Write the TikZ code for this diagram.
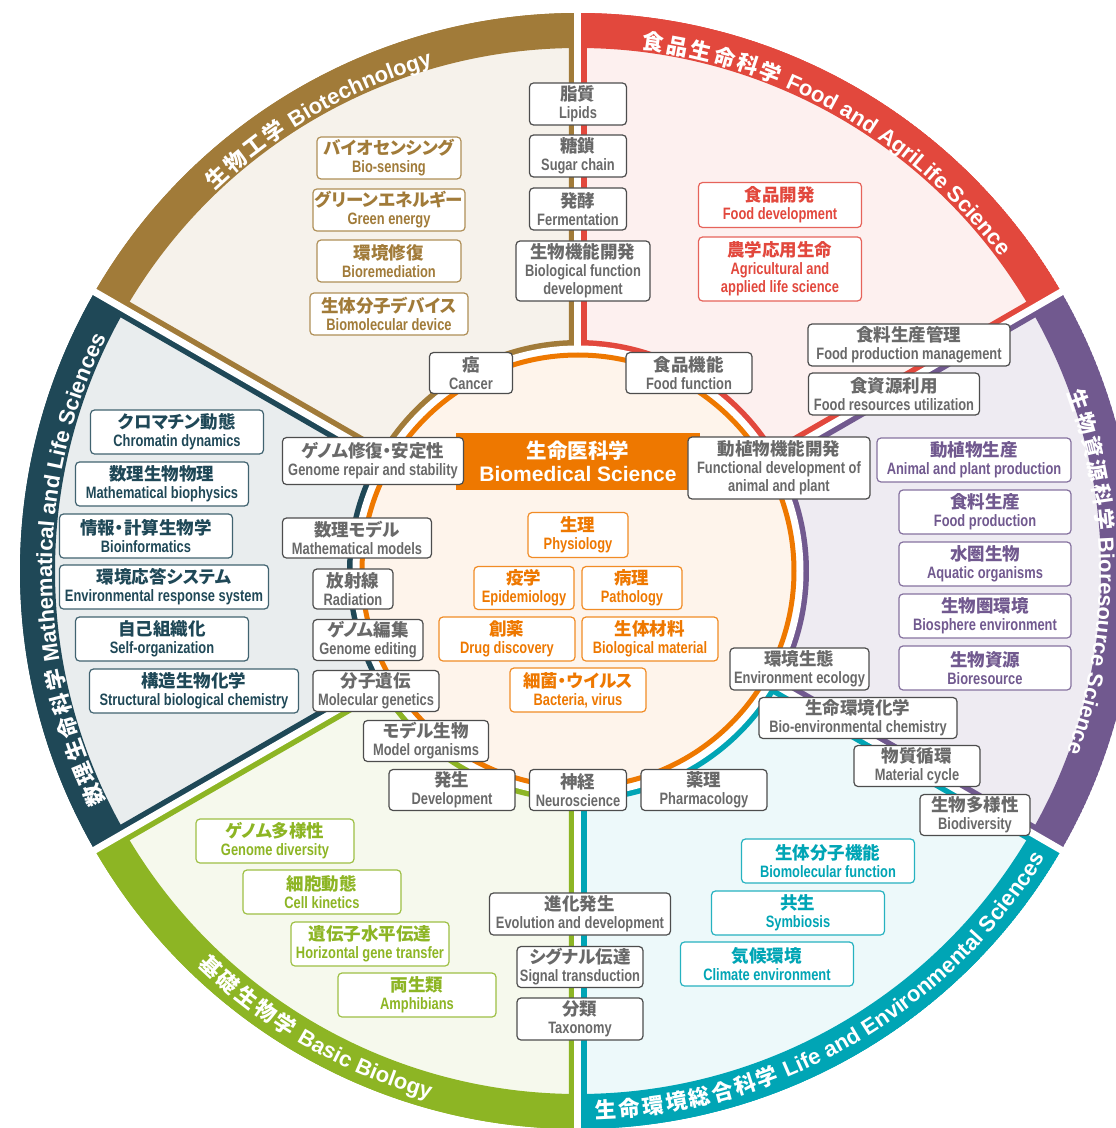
\documentclass[tikz,border=0pt]{standalone}
\usepackage{fontspec}
\setmainfont{Liberation Sans}
\newfontfamily\jpfont[RawFeature=+palt]{Noto Sans CJK JP}
\newfontfamily\cnfont[FakeStretch=0.78]{Liberation Sans}
\usetikzlibrary{decorations.text}
\definecolor{biobrown}{RGB}{161,123,57}
\definecolor{foodred}{RGB}{226,72,61}
\definecolor{resviolet}{RGB}{113,89,143}
\definecolor{envteal}{RGB}{0,165,181}
\definecolor{basicgreen}{RGB}{141,181,36}
\definecolor{mathnavy}{RGB}{31,72,87}
\definecolor{medorange}{RGB}{238,120,0}
\definecolor{keygray}{RGB}{105,105,105}
\definecolor{keyline}{RGB}{77,77,77}
\newcommand\jl[1]{{\jpfont\bfseries\fontsize{17.5}{18}\selectfont #1}}
\newcommand\ringjp{\jpfont\bfseries\fontsize{21.5}{22}\selectfont\kern2.5pt}
\newcommand\ringen{\rmfamily\bfseries\fontsize{22}{22}\selectfont}

\begin{document}
\begin{tikzpicture}[x=1pt, y=1pt,
  topic/.style={draw=#1!85, line width=1.2pt, rounded corners=4pt, fill=white, text=#1, align=center,
    minimum height=42pt, inner sep=2pt, font=\cnfont\bfseries\fontsize{16.5}{18}\selectfont},
  keybox/.style={topic=keygray, draw=keyline},
  ringlabel/.style={decorate, decoration={text along path, text align=center, text color=white, text={#1}}}]
  \path[use as bounding box, fill=white] (-578,-557) rectangle (538,571);
  \clip (-578,-557) rectangle (538,571);

  \foreach \a/\c/\l in {30/foodred/8, 90/biobrown/10, 150/mathnavy/10, 210/basicgreen/8, 270/envteal/7, 330/resviolet/12}{
    \pgfmathsetmacro\b{\a+60}
    \begin{scope}
      \clip (\a:222) -- (\a:558) arc[start angle=\a, end angle=\b, radius=558] -- (\b:222) arc[start angle=\b, end angle=\a, radius=222] -- cycle;
      \filldraw[fill=\c!\l, draw=\c, line width=18pt] (\a:222) -- (\a:558) arc[start angle=\a, end angle=\b, radius=558] -- (\b:222) arc[start angle=\b, end angle=\a, radius=222] -- cycle;
      \draw[\c, line width=35pt] (\a:540.5) arc[start angle=\a, end angle=\b, radius=540.5];
    \end{scope}
  }
  \foreach \a in {30,90,...,330}
    \draw[white, line width=7pt] (\a:219) -- (\a:600);
  \draw[white, line width=7pt] (0,0) circle[radius=222];
  \filldraw[fill=medorange!8, draw=medorange, line width=5pt] (0,0) circle[radius=216];

  \path[ringlabel={|\ringjp|食品生命科学 |\ringen|Food and AgriLife Science}] (105:526) arc[start angle=105, end angle=15, radius=526];
  \path[ringlabel={|\ringjp|生物工学 |\ringen|Biotechnology}] (165:526) arc[start angle=165, end angle=75, radius=526];
  \path[ringlabel={|\ringjp|数理生命科学 |\ringen|Mathematical and Life Sciences}] (225:526) arc[start angle=225, end angle=135, radius=526];
  \path[ringlabel={|\ringjp|生物資源科学 |\ringen|Bioresource Science}] (45:521) arc[start angle=45, end angle=-45, radius=521];
  \path[ringlabel={|\ringjp|基礎生物学 |\ringen|Basic Biology}] (195:548) arc[start angle=195, end angle=285, radius=548];
  \path[ringlabel={|\ringjp|生命環境総合科学 |\ringen|Life and Environmental Sciences}] (255:548) arc[start angle=255, end angle=345, radius=548];

  \node[fill=medorange, text=white, minimum width=244pt, minimum height=57pt, align=center,
    font=\bfseries\fontsize{21}{23}\selectfont] (biomed) at (0,109.5)
    {{\jpfont\fontsize{20.5}{23}\selectfont 生命医科学}\\Biomedical Science};

  \node[topic=biobrown, minimum width=144pt] (biosens) at (-189,413) {\jl{バイオセンシング}\\Bio-sensing};
  \node[topic=biobrown, minimum width=144pt] (greenen) at (-189,361) {\jl{グリーンエネルギー}\\Green energy};
  \node[topic=biobrown, minimum width=144pt] (biorem) at (-189,310) {\jl{環境修復}\\Bioremediation};
  \node[topic=biobrown, minimum width=158pt] (biodev) at (-189,257) {\jl{生体分子デバイス}\\Biomolecular device};

  \node[keybox, minimum width=97pt] (lipid) at (0,467) {\jl{脂質}\\Lipids};
  \node[keybox, minimum width=97pt] (sugar) at (0,415) {\jl{糖鎖}\\Sugar chain};
  \node[keybox, minimum width=97pt] (ferment) at (0,362) {\jl{発酵}\\Fermentation};
  \node[keybox, minimum width=134pt, minimum height=60pt] (biofunc) at (5,300) {\jl{生物機能開発}\\Biological function\\development};

  \node[topic=foodred, minimum width=163pt, minimum height=45pt] (fooddev) at (202,366) {\jl{食品開発}\\Food development};
  \node[topic=foodred, minimum width=163pt, minimum height=64pt] (agri) at (202,302) {\jl{農学応用生命}\\Agricultural and\\applied life science};

  \node[keybox, minimum width=202pt] (prodmgmt) at (331,226) {\jl{食料生産管理}\\Food production management};
  \node[keybox, minimum width=171pt] (foodres) at (316,177) {\jl{食資源利用}\\Food resources utilization};
  \node[keybox, minimum width=126pt, minimum height=41pt] (foodfunc) at (111,198) {\jl{食品機能}\\Food function};
  \node[keybox, minimum width=83pt, minimum height=41pt] (cancer) at (-107,198) {\jl{癌}\\Cancer};
  \node[keybox, minimum width=181pt, minimum height=47pt] (repair) at (-205,110) {\jl{ゲノム修復・安定性}\\Genome repair and stability};
  \node[keybox, minimum width=182pt, minimum height=62pt] (funcdev) at (201,103) {\jl{動植物機能開発}\\Functional development of\\animal and plant};

  \node[topic=resviolet, minimum width=194pt, minimum height=44pt] (animprod) at (396,111) {\jl{動植物生産}\\Animal and plant production};
  \node[topic=resviolet, minimum width=172pt, minimum height=44pt] (foodprod) at (407,59) {\jl{食料生産}\\Food production};
  \node[topic=resviolet, minimum width=172pt, minimum height=44pt] (aquatic) at (407,7) {\jl{水圏生物}\\Aquatic organisms};
  \node[topic=resviolet, minimum width=172pt, minimum height=44pt] (biosphere) at (407,-45) {\jl{生物圏環境}\\Biosphere environment};
  \node[topic=resviolet, minimum width=172pt, minimum height=44pt] (bioresource) at (407,-97) {\jl{生物資源}\\Bioresource};

  \node[keybox, minimum width=139pt] (envecol) at (221.5,-98) {\jl{環境生態}\\Environment ecology};
  \node[keybox, minimum width=198pt, minimum height=41pt] (bioenvchem) at (280,-147) {\jl{生命環境化学}\\Bio-environmental chemistry};
  \node[keybox, minimum width=126pt, minimum height=41pt] (matcycle) at (339,-195) {\jl{物質循環}\\Material cycle};
  \node[keybox, minimum width=110pt, minimum height=41pt] (biodiv) at (397,-244) {\jl{生物多様性}\\Biodiversity};

  \node[topic=mathnavy, minimum width=173pt, minimum height=44pt] (chromatin) at (-401,139) {\jl{クロマチン動態}\\Chromatin dynamics};
  \node[topic=mathnavy, minimum width=173pt, minimum height=44pt] (mathbio) at (-416,87) {\jl{数理生物物理}\\Mathematical biophysics};
  \node[topic=mathnavy, minimum width=173pt, minimum height=44pt] (bioinfo) at (-432,35) {\jl{情報・計算生物学}\\Bioinformatics};
  \node[topic=mathnavy, minimum width=209pt, minimum height=44pt] (envresp) at (-414,-16) {\jl{環境応答システム}\\Environmental response system};
  \node[topic=mathnavy, minimum width=173pt, minimum height=44pt] (selforg) at (-416,-68) {\jl{自己組織化}\\Self-organization};
  \node[topic=mathnavy, minimum width=209pt, minimum height=44pt] (structchem) at (-384,-120) {\jl{構造生物化学}\\Structural biological chemistry};

  \node[keybox, minimum width=149pt, minimum height=40pt] (mathmodel) at (-221,33) {\jl{数理モデル}\\Mathematical models};
  \node[keybox, minimum width=80pt, minimum height=40pt] (radiation) at (-225,-18) {\jl{放射線}\\Radiation};
  \node[keybox, minimum width=110pt, minimum height=41pt] (genedit) at (-210,-69) {\jl{ゲノム編集}\\Genome editing};
  \node[keybox, minimum width=126pt, minimum height=41pt] (molgen) at (-202,-120) {\jl{分子遺伝}\\Molecular genetics};
  \node[keybox, minimum width=125pt, minimum height=41pt] (modelorg) at (-152,-170) {\jl{モデル生物}\\Model organisms};
  \node[keybox, minimum width=126pt, minimum height=41pt] (develop) at (-126,-219) {\jl{発生}\\Development};
  \node[keybox, minimum width=97pt, minimum height=41pt] (neuro) at (0,-219) {\jl{神経}\\Neuroscience};
  \node[keybox, minimum width=126pt, minimum height=41pt] (pharma) at (126,-219) {\jl{薬理}\\Pharmacology};

  \node[topic=medorange, minimum width=100pt, minimum height=45pt] (physio) at (0,36) {\jl{生理}\\Physiology};
  \node[topic=medorange, minimum width=100pt, minimum height=43pt] (epidem) at (-54,-17) {\jl{疫学}\\Epidemiology};
  \node[topic=medorange, minimum width=100pt, minimum height=43pt] (patho) at (54,-17) {\jl{病理}\\Pathology};
  \node[topic=medorange, minimum width=136pt, minimum height=44pt] (drug) at (-71,-68) {\jl{創薬}\\Drug discovery};
  \node[topic=medorange, minimum width=136pt, minimum height=44pt] (biomat) at (72,-68) {\jl{生体材料}\\Biological material};
  \node[topic=medorange, minimum width=136pt, minimum height=44pt] (bacteria) at (0,-119) {\jl{細菌・ウイルス}\\Bacteria, virus};

  \node[topic=basicgreen, minimum width=158pt, minimum height=44pt] (genodiv) at (-303,-270) {\jl{ゲノム多様性}\\Genome diversity};
  \node[topic=basicgreen, minimum width=158pt, minimum height=44pt] (cellkin) at (-256,-321) {\jl{細胞動態}\\Cell kinetics};
  \node[topic=basicgreen, minimum width=158pt, minimum height=44pt] (hgt) at (-208,-373) {\jl{遺伝子水平伝達}\\Horizontal gene transfer};
  \node[topic=basicgreen, minimum width=158pt, minimum height=44pt] (amphib) at (-161,-424) {\jl{両生類}\\Amphibians};

  \node[keybox, minimum width=181pt] (evodev) at (2,-343) {\jl{進化発生}\\Evolution and development};
  \node[keybox, minimum width=126pt, minimum height=41pt] (signal) at (2,-396) {\jl{シグナル伝達}\\Signal transduction};
  \node[keybox, minimum width=126pt] (taxon) at (2,-448) {\jl{分類}\\Taxonomy};

  \node[topic=envteal, minimum width=173pt, minimum height=44pt] (biomolfunc) at (250,-290) {\jl{生体分子機能}\\Biomolecular function};
  \node[topic=envteal, minimum width=173pt, minimum height=44pt] (symb) at (220,-342) {\jl{共生}\\Symbiosis};
  \node[topic=envteal, minimum width=173pt, minimum height=44pt] (climate) at (189,-393) {\jl{気候環境}\\Climate environment};
\end{tikzpicture}
\end{document}
